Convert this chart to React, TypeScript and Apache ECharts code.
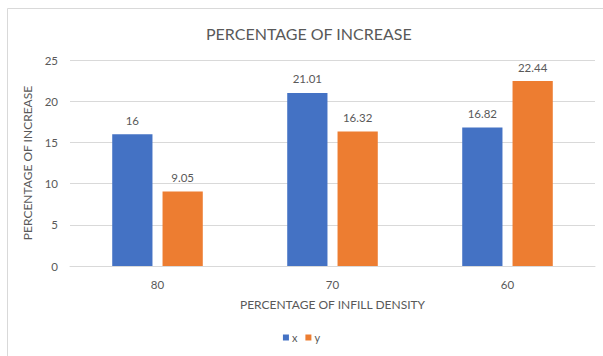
import React, { useEffect, useRef } from "react";
import * as echarts from "echarts";

const categories = ["80", "70", "60"];
const seriesX = [16, 21.01, 16.82];
const seriesY = [9.05, 16.32, 22.44];
const seriesNames = ["x", "y"];

export default function App() {
  const ref = useRef<HTMLDivElement>(null);
  useEffect(() => {
    if (!ref.current) return;
    const chart = echarts.init(ref.current, undefined, { renderer: "svg" });
    const font = "Lato, 'Liberation Sans', sans-serif";
    const textColor = "#595959";
    chart.setOption({
      animation: false,
      backgroundColor: "#ffffff",
      textStyle: { fontFamily: font },
      title: {
        text: "PERCENTAGE OF INCREASE",
        left: 201,
        top: 20,
        textStyle: { fontFamily: font, fontSize: 16, fontWeight: "normal", color: textColor },
      },
      graphic: [
        {
          type: "polyline",
          shape: { points: [[7.5, 356], [7.5, 8.5], [603, 8.5]] },
          style: { stroke: "#d9d9d9", fill: null, lineWidth: 1 },
          silent: true,
        },
      ],
      legend: {
        bottom: 8,
        left: "center",
        itemWidth: 6,
        itemHeight: 6,
        itemGap: 8,
        icon: "rect",
        textStyle: { fontFamily: font, fontSize: 11, color: textColor, padding: [0, 0, 0, -2] },
        data: seriesNames,
      },
      grid: { left: 70, right: 8, top: 60, bottom: 90, containLabel: false },
      xAxis: {
        type: "category",
        data: categories,
        name: "PERCENTAGE OF INFILL DENSITY",
        nameLocation: "middle",
        nameGap: 32,
        nameTextStyle: { fontFamily: font, fontSize: 12, color: textColor },
        axisLine: { lineStyle: { color: "#d9d9d9" } },
        axisTick: { show: false },
        axisLabel: { fontFamily: font, fontSize: 11.5, color: textColor, margin: 12 },
      },
      yAxis: {
        type: "value",
        min: 0,
        max: 25,
        interval: 5,
        name: "PERCENTAGE OF INCREASE",
        nameLocation: "middle",
        nameGap: 27,
        nameRotate: 90,
        nameTextStyle: { fontFamily: font, fontSize: 12, color: textColor },
        axisLine: { show: false },
        axisTick: { show: false },
        axisLabel: { fontFamily: font, fontSize: 11.5, color: textColor, margin: 12 },
        splitLine: { lineStyle: { color: "#d9d9d9" } },
      },
      series: [
        {
          name: seriesNames[0],
          type: "bar",
          data: seriesX,
          barWidth: "23%",
          barGap: "25%",
          itemStyle: { color: "#4472C4" },
          label: { show: true, position: "top", distance: 8, fontFamily: font, fontSize: 11.5, color: textColor },
        },
        {
          name: seriesNames[1],
          type: "bar",
          data: seriesY,
          barWidth: "23%",
          itemStyle: { color: "#ED7D31" },
          label: { show: true, position: "top", distance: 8, fontFamily: font, fontSize: 11.5, color: textColor },
        },
      ],
    });
    return () => chart.dispose();
  }, []);
  return (
    <div
      ref={ref}
      style={{ position: "absolute", left: 0, top: 0, width: 603, height: 356 }}
    />
  );
}
